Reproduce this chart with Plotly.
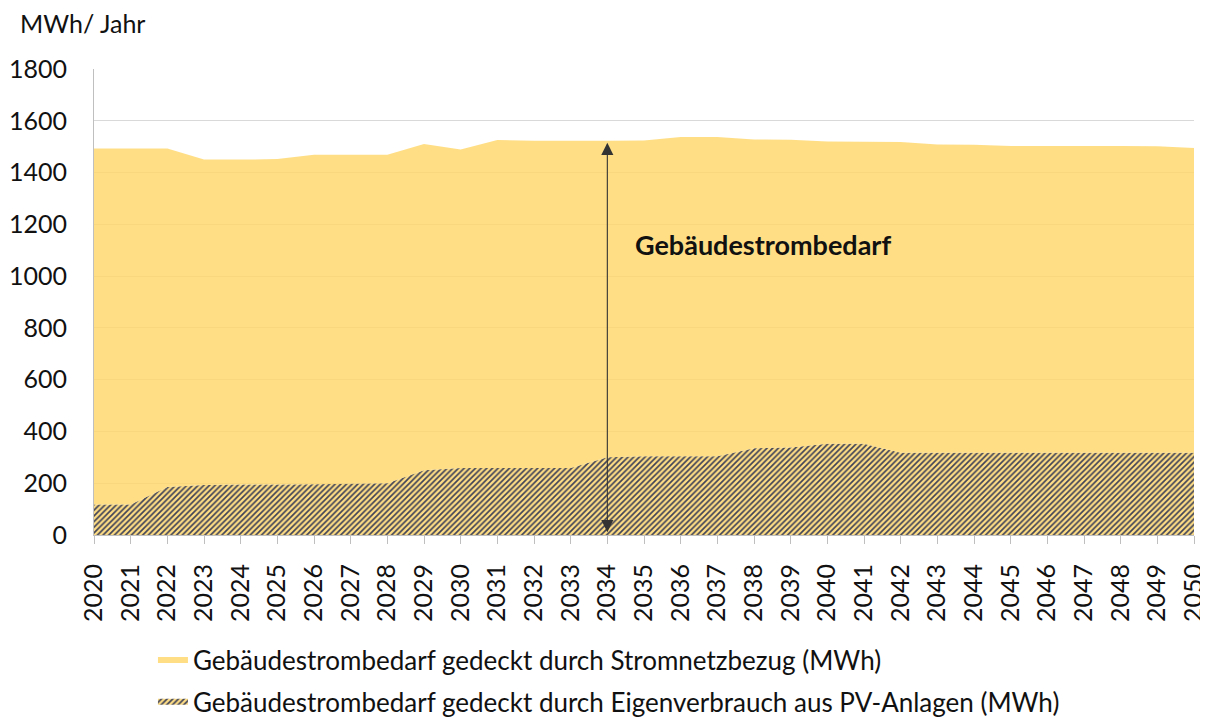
import plotly.graph_objects as go

years = list(range(2020, 2051))
total_demand = [1493, 1493, 1493, 1450, 1450, 1452, 1469, 1469, 1469, 1510, 1489,
                1526, 1523, 1523, 1523, 1524, 1537, 1537, 1528, 1527, 1520, 1519,
                1518, 1508, 1507, 1503, 1503, 1503, 1503, 1502, 1495]
pv_self = [118, 118, 185, 193, 195, 195, 196, 198, 200, 250, 259,
           259, 259, 259, 300, 304, 304, 304, 335, 338, 352, 352,
           318, 318, 318, 318, 318, 318, 318, 318, 318]
grid_supply = [t - p for t, p in zip(total_demand, pv_self)]

name_grid = "Gebäudestrombedarf gedeckt durch Stromnetzbezug (MWh)"
name_pv = "Gebäudestrombedarf gedeckt durch Eigenverbrauch aus PV-Anlagen (MWh)"
y_title = "MWh/ Jahr"
label_text = "Gebäudestrombedarf"
arrow_year = 2034

FONT = "Lato, Calibri, Carlito, sans-serif"
YELLOW = "rgba(255,214,102,0.8)"
YELLOW_SOLID = "#FFDE85"
HATCH = "#3F4257"
TXT = "#111111"

fig = go.Figure()
fig.add_trace(go.Scatter(
    x=years, y=pv_self, name=name_pv, stackgroup="one", mode="none",
    fillcolor=YELLOW_SOLID,
    fillpattern=dict(shape="/", size=4, solidity=0.42, fgcolor=HATCH,
                     bgcolor=YELLOW_SOLID, fillmode="replace"),
    legendgroup="b", legendrank=2, hoverinfo="x+y",
))
fig.add_trace(go.Scatter(
    x=years, y=grid_supply, name=name_grid, stackgroup="one", mode="none",
    fillcolor=YELLOW, legendgroup="a", legendrank=1, hoverinfo="x+y",
))

fig.add_annotation(
    x=arrow_year, y=1515, ax=arrow_year, ay=5, xref="x", yref="y",
    axref="x", ayref="y", text="", showarrow=True, arrowhead=2, startarrowhead=2,
    arrowside="end+start", arrowsize=2.2, startarrowsize=2.2, arrowwidth=1.1,
    arrowcolor="#333333",
)
fig.add_annotation(
    x=2034.71, y=1122, xref="x", yref="y", text="<b>" + label_text + "</b>",
    showarrow=False, xanchor="left", yanchor="middle",
    font=dict(family=FONT, size=27, color=TXT),
)
fig.add_annotation(
    x=-0.0695, y=1.062, xref="paper", yref="paper", text=y_title, showarrow=False,
    xanchor="left", yanchor="bottom",
    font=dict(family=FONT, size=25, color=TXT),
)

fig.update_layout(
    width=1200, height=709,
    margin=dict(l=86, r=14, t=61, b=182, autoexpand=False),
    paper_bgcolor="white", plot_bgcolor="white",
    font=dict(family=FONT, size=25, color=TXT),
    showlegend=True,
    legend=dict(
        orientation="v", x=0.0536, xref="paper", y=0.1135, yref="container",
        xanchor="left", yanchor="top",
        traceorder="grouped", tracegroupgap=5,
        font=dict(family=FONT, size=26, color=TXT),
        bgcolor="rgba(0,0,0,0)",
    ),
    xaxis=dict(
        range=[2020, 2050], tickmode="array", tickvals=years,
        ticktext=[str(y) for y in years], tickangle=-90,
        ticks="outside", ticklen=8, tickcolor="#BFBFBF",
        showline=True, linecolor="#BFBFBF", linewidth=1,
        showgrid=False, zeroline=False, automargin=False,
        ticklabelstandoff=10,
        tickfont=dict(family=FONT, size=25, color=TXT),
    ),
    yaxis=dict(
        range=[0, 1800], tickmode="linear", tick0=0, dtick=200,
        showgrid=True, gridcolor="#D9D9D9", gridwidth=1,
        showline=True, linecolor="#BFBFBF", linewidth=1,
        zeroline=False, ticks="", ticklabelstandoff=21, automargin=False,
        tickfont=dict(family=FONT, size=25, color=TXT),
        layer="below traces",
    ),
)

fig.write_html("out.html")
